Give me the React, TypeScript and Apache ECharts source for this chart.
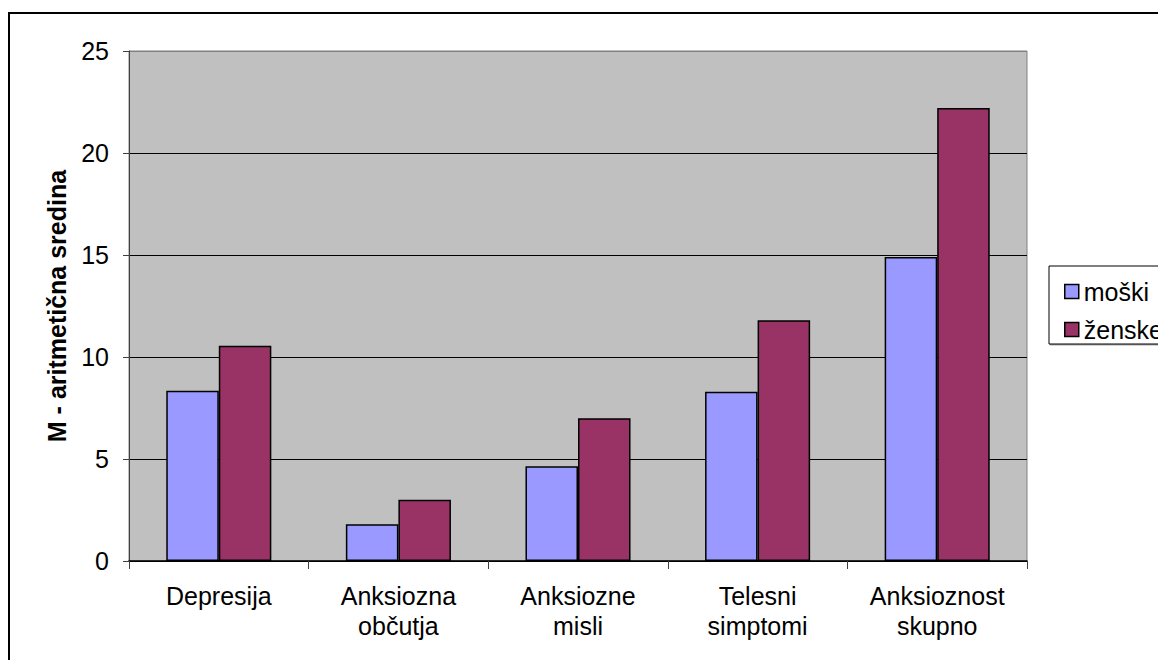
import React, { useEffect, useRef } from "react";
import * as echarts from "echarts";

const categories = [
  "Depresija",
  "Anksiozna\nobčutja",
  "Anksiozne\nmisli",
  "Telesni\nsimptomi",
  "Anksioznost\nskupno",
];
const moski = [8.35, 1.8, 4.65, 8.3, 14.9];
const zenske = [10.55, 3.0, 7.0, 11.8, 22.2];
const seriesNames = ["moški", "ženske"];
const yTicks = { min: 0, max: 25, interval: 5 };

const FONT = "Liberation Sans, Arial, sans-serif";

export default function App() {
  const ref = useRef<HTMLDivElement>(null);
  useEffect(() => {
    if (!ref.current) return;
    const chart = echarts.init(ref.current, undefined, { renderer: "svg" });
    chart.setOption({
      animation: false,
      backgroundColor: "#ffffff",
      textStyle: { fontFamily: FONT },
      grid: {
        left: 121,
        top: 43,
        right: 139,
        bottom: 99,
        show: true,
        backgroundColor: "#C0C0C0",
        borderColor: "#808080",
        borderWidth: 1,
        containLabel: false,
      },
      graphic: [
        {
          type: "rect",
          shape: { x: 1, y: 5, width: 1300, height: 800 },
          style: { fill: "none", stroke: "#000", lineWidth: 2 },
          silent: true,
        },
        {
          type: "rect",
          shape: { x: 1041, y: 258, width: 200, height: 78 },
          style: { fill: "#fff", stroke: "#000", lineWidth: 1, shadowColor: "rgba(0,0,0,0.35)", shadowOffsetX: 1, shadowOffsetY: 1, shadowBlur: 0 },
          silent: true,
          z: -1,
        },
      ],
      legend: {
        orient: "vertical",
        left: 1051,
        top: 266,
        itemWidth: 14,
        itemHeight: 14,
        itemGap: 13,
        icon: "rect",
        textStyle: { fontSize: 25, lineHeight: 25, color: "#000", fontFamily: FONT, padding: [0, 0, 0, 0] },
        itemStyle: { borderColor: "#000", borderWidth: 1.5 },
        data: seriesNames,
      },
      xAxis: {
        type: "category",
        data: categories,
        axisLine: { lineStyle: { color: "#000", width: 1.5 } },
        axisTick: { show: true, length: 8, lineStyle: { color: "#404040" } },
        axisLabel: { fontSize: 25, color: "#000", margin: 20, lineHeight: 30, fontFamily: FONT },
      },
      yAxis: {
        type: "value",
        min: yTicks.min,
        max: yTicks.max,
        interval: yTicks.interval,
        name: "M - aritmetična sredina",
        nameLocation: "middle",
        nameRotate: 90,
        nameGap: 60,
        nameTextStyle: { fontSize: 25, fontWeight: "bold", color: "#000", fontFamily: FONT },
        axisLine: { show: true, lineStyle: { color: "#404040", width: 1 } },
        axisTick: { show: true, length: 6, lineStyle: { color: "#404040" } },
        axisLabel: { fontSize: 25, color: "#000", margin: 20, fontFamily: FONT },
        splitLine: {
          show: true,
          lineStyle: { color: ["#000", "#000", "#000", "#000", "#000", "#808080"], width: 1 },
        },
      },
      series: [
        {
          name: seriesNames[0],
          type: "bar",
          data: moski,
          barGap: "0%",
          barCategoryGap: "41.5%",
          itemStyle: { color: "#9999FF", borderColor: "#000", borderWidth: 1.5 },
        },
        {
          name: seriesNames[1],
          type: "bar",
          data: zenske,
          itemStyle: { color: "#993366", borderColor: "#000", borderWidth: 1.5 },
        },
      ],
    });
    return () => chart.dispose();
  }, []);
  return <div ref={ref} style={{ width: 1158, height: 652 }} />;
}
